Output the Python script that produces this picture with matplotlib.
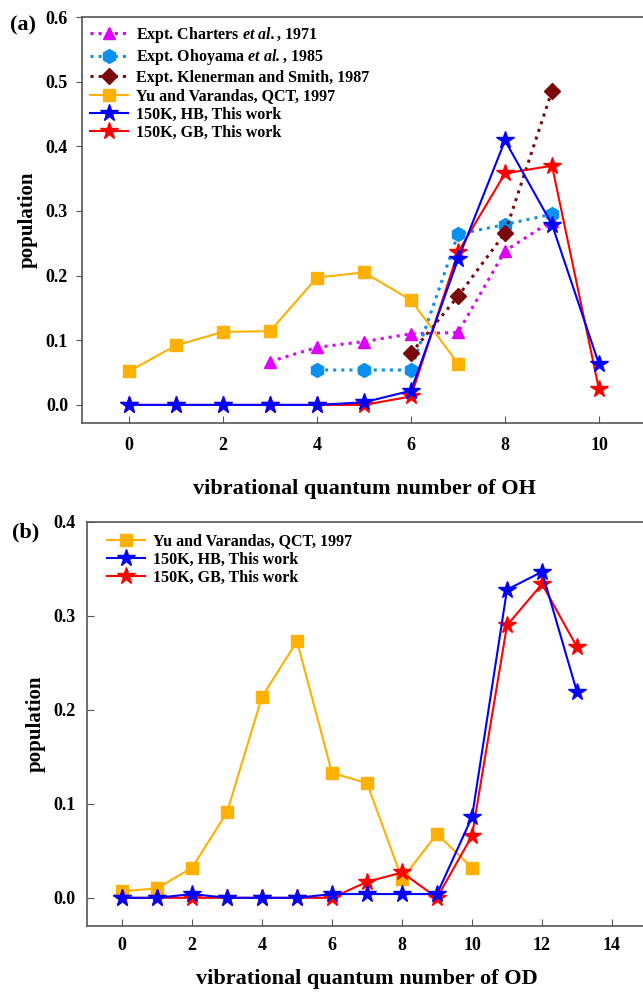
import numpy as np
import matplotlib.pyplot as plt

plt.rcParams['font.family'] = ['Liberation Serif', 'DejaVu Serif']
plt.rcParams['font.weight'] = 'bold'
plt.rcParams['mathtext.fontset'] = 'custom'
plt.rcParams['mathtext.rm'] = 'Liberation Serif:bold'
plt.rcParams['mathtext.bf'] = 'Liberation Serif:bold'
plt.rcParams['mathtext.it'] = 'Liberation Serif:bold:italic'
plt.rcParams['mathtext.bfit'] = 'Liberation Serif:bold:italic'

# panel (a): OH
v_charters = [3, 4, 5, 6, 7, 8, 9]
p_charters = [0.067, 0.089, 0.098, 0.110, 0.112, 0.238, 0.285]
v_ohoyama = [4, 5, 6, 7, 8, 9]
p_ohoyama = [0.054, 0.054, 0.054, 0.264, 0.279, 0.295]
v_klenerman = [6, 7, 8, 9]
p_klenerman = [0.080, 0.168, 0.266, 0.486]
v_yu_oh = [0, 1, 2, 3, 4, 5, 6, 7]
p_yu_oh = [0.052, 0.092, 0.113, 0.114, 0.197, 0.205, 0.162, 0.064]
v_oh = [0, 1, 2, 3, 4, 5, 6, 7, 8, 9, 10]
p_hb_oh = [0, 0, 0, 0, 0, 0.004, 0.022, 0.225, 0.409, 0.279, 0.063]
p_gb_oh = [0, 0, 0, 0, 0, 0.0, 0.013, 0.236, 0.358, 0.370, 0.024]

# panel (b): OD
v_yu_od = [0, 1, 2, 3, 4, 5, 6, 7, 8, 9, 10]
p_yu_od = [0.007, 0.010, 0.032, 0.091, 0.214, 0.273, 0.133, 0.122, 0.020, 0.068, 0.032]
v_od = [0, 1, 2, 3, 4, 5, 6, 7, 8, 9, 10, 11, 12, 13]
p_hb_od = [0, 0, 0.004, 0, 0, 0, 0.004, 0.004, 0.004, 0.004, 0.086, 0.328, 0.347, 0.219]
p_gb_od = [0, 0, 0, 0, 0, 0, 0, 0.017, 0.027, 0, 0.066, 0.290, 0.334, 0.267]

fig = plt.figure(figsize=(6.43, 9.93), dpi=100)
W, H = 643, 993
ax1 = fig.add_axes([82 / W, 1 - 423 / H, (646 - 82) / W, (423 - 17) / H])
ax2 = fig.add_axes([87 / W, 1 - 926 / H, (647 - 87) / W, (926 - 522) / H])

orange = '#ffb000'
ms_star = 13

ax1.plot(v_charters, p_charters, ':', color='#e000ff', marker='^', ms=9, lw=2.2,
         label=r'Expt. Charters $\mathbfit{et\ al.}$, 1971')
ax1.plot(v_ohoyama, p_ohoyama, ':', color='#0a90f0', marker='h', ms=10, lw=2.2,
         label=r'Expt. Ohoyama $\mathbfit{et\ al.}$, 1985')
ax1.plot(v_klenerman, p_klenerman, ':', color='#7a0a0a', marker='D', ms=8, lw=2.2,
         label='Expt. Klenerman and Smith, 1987')
ax1.plot(v_yu_oh, p_yu_oh, '-', color=orange, marker='s', ms=9, lw=1.5,
         label='Yu and Varandas, QCT, 1997')
ax1.plot(v_oh, p_gb_oh, '-', color='red', marker='*', ms=ms_star, lw=1.5, zorder=3)
ax1.plot(v_oh, p_hb_oh, '-', color='blue', marker='*', ms=ms_star, lw=1.5,
         label='150K, HB, This work', zorder=4)
ax1.plot([], [], '-', color='red', marker='*', ms=ms_star, lw=1.5,
         label='150K, GB, This work')

ax2.plot(v_yu_od, p_yu_od, '-', color=orange, marker='s', ms=9, lw=1.5,
         label='Yu and Varandas, QCT, 1997')
ax2.plot(v_od, p_gb_od, '-', color='red', marker='*', ms=ms_star, lw=1.5, zorder=3)
ax2.plot(v_od, p_hb_od, '-', color='blue', marker='*', ms=ms_star, lw=1.5,
         label='150K, HB, This work', zorder=4)
ax2.plot([], [], '-', color='red', marker='*', ms=ms_star, lw=1.5,
         label='150K, GB, This work')

ax1.set_xlim(-1, 11)
ax1.set_ylim(-0.028, 0.6)
ax1.set_xticks([0, 2, 4, 6, 8, 10])
ax1.set_yticks([0.0, 0.1, 0.2, 0.3, 0.4, 0.5, 0.6])
ax1.set_xlabel('vibrational quantum number of OH', fontsize=16, fontweight='bold', labelpad=18)

ax2.set_xlim(-1, 15)
ax2.set_ylim(-0.03, 0.4)
ax2.set_xticks([0, 2, 4, 6, 8, 10, 12, 14])
ax2.set_yticks([0.0, 0.1, 0.2, 0.3, 0.4])
ax2.set_xlabel('vibrational quantum number of OD', fontsize=16, fontweight='bold', labelpad=11)

for ax in (ax1, ax2):
    ax.set_ylabel('population', fontsize=15, fontweight='bold', labelpad=6)
    ax.yaxis.set_major_formatter(plt.FormatStrFormatter('%.1f'))
    ax.tick_params(direction='in', labelsize=13, length=5, color='#555555')
    ax.tick_params(axis='y', pad=8)
    for lab in ax.get_xticklabels() + ax.get_yticklabels():
        lab.set_fontweight('bold')
    for s in ax.spines.values():
        s.set_color('#555555')
        s.set_linewidth(1.2)
    ax.spines['right'].set_visible(False)

ax1.tick_params(axis='x', pad=10)
ax2.tick_params(axis='x', pad=8)
ax1.tick_params(axis='y', direction='out', length=4, pad=6)

ax1.legend(loc='upper left', bbox_to_anchor=(0.0, 1.0), frameon=False,
           handlelength=2.4, borderaxespad=0.2, borderpad=0.3, labelspacing=0.15,
           handletextpad=0.5, prop={'weight': 'bold', 'size': 11.5})
ax2.legend(loc='upper left', bbox_to_anchor=(0.015, 1.0), frameon=False,
           handlelength=2.4, borderaxespad=0.2, borderpad=0.5, labelspacing=0.15,
           handletextpad=0.5, prop={'weight': 'bold', 'size': 11.5})

fig.text(10 / W, 1 - 25 / H, '(a)', fontsize=16, fontweight='bold', va='center')
fig.text(12 / W, 1 - 532 / H, '(b)', fontsize=16, fontweight='bold', va='center')

fig.savefig('out.png', dpi=100)
